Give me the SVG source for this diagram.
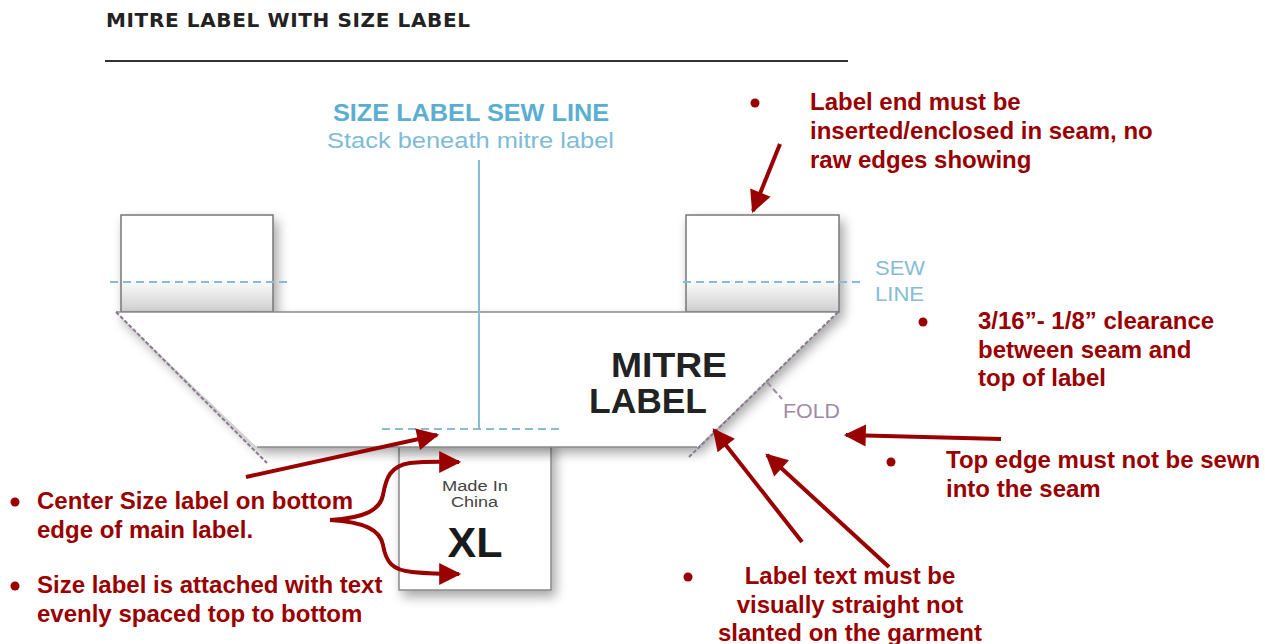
<svg xmlns="http://www.w3.org/2000/svg" width="1265" height="644" viewBox="0 0 1265 644">
<style>
.red{fill:#990000;font-family:"Liberation Sans",Arial,sans-serif;font-weight:bold;font-size:24px}
.dot{fill:#990000}
.arr{stroke:#990000;stroke-width:4;fill:none}
.sew{stroke:#86bcd4;stroke-width:2;stroke-dasharray:8 5;fill:none}
.fold{stroke:#8a7a90;stroke-width:2;stroke-dasharray:4 2;fill:none}
.edge{stroke:#8a8a8a;stroke-width:1.5}
.blue{font-family:"Liberation Sans",Arial,sans-serif}
</style>
<defs>
<marker id="ah" viewBox="0 0 10 10" refX="9" refY="5" markerWidth="6" markerHeight="5.5" markerUnits="strokeWidth" orient="auto">
<path d="M0,0 L10,5 L0,10 z" fill="#990000"/>
</marker>
<linearGradient id="tabg" x1="0" y1="0" x2="0" y2="1">
<stop offset="0" stop-color="#ffffff"/>
<stop offset="0.65" stop-color="#ffffff"/>
<stop offset="1" stop-color="#cfcfcf"/>
</linearGradient>
<linearGradient id="szg" x1="0" y1="0" x2="0" y2="1">
<stop offset="0" stop-color="#d4d4d4"/>
<stop offset="0.15" stop-color="#ffffff"/>
<stop offset="1" stop-color="#ffffff"/>
</linearGradient>
<filter id="sh" x="-10%" y="-10%" width="130%" height="140%">
<feGaussianBlur in="SourceAlpha" stdDeviation="6"/>
<feOffset dx="4" dy="6" result="b"/>
<feComponentTransfer><feFuncA type="linear" slope="0.35"/></feComponentTransfer>
<feMerge><feMergeNode/><feMergeNode in="SourceGraphic"/></feMerge>
</filter>
</defs>
<rect width="1265" height="644" fill="#ffffff"/>

<g id="title">
<text x="106" y="27" font-family="'DejaVu Sans','Liberation Sans',sans-serif" font-weight="bold" font-size="20" textLength="364" lengthAdjust="spacing" fill="#222">MITRE LABEL WITH SIZE LABEL</text>
<line x1="105" y1="61" x2="848" y2="61" stroke="#333" stroke-width="2"/>
</g>

<g id="size-sew-line-label">
<text x="333" y="121" class="blue" font-weight="bold" font-size="23" textLength="276" lengthAdjust="spacingAndGlyphs" fill="#5aaed2">SIZE LABEL SEW LINE</text>
<text x="327" y="148" class="blue" font-size="22.5" textLength="287" lengthAdjust="spacingAndGlyphs" fill="#7dbcd8">Stack beneath mitre label</text>
</g>

<g id="left-tab">
<rect x="121" y="215" width="152" height="97" fill="url(#tabg)" stroke="#777" stroke-width="1.5" filter="url(#sh)"/>
</g>
<g id="right-tab">
<rect x="686" y="215" width="153" height="97" fill="url(#tabg)" stroke="#777" stroke-width="1.5" filter="url(#sh)"/>
</g>

<g id="size-label">
<rect x="399" y="440" width="152" height="150" fill="url(#szg)" stroke="#888" stroke-width="1.5" filter="url(#sh)"/>
<text x="442" y="491" font-family="'Liberation Sans',Arial,sans-serif" font-size="15.5" textLength="66" lengthAdjust="spacingAndGlyphs" fill="#444">Made In</text>
<text x="451" y="507" font-family="'Liberation Sans',Arial,sans-serif" font-size="15.5" textLength="47" lengthAdjust="spacingAndGlyphs" fill="#444">China</text>
<text x="475" y="557" text-anchor="middle" font-family="'Liberation Sans',Arial,sans-serif" font-weight="bold" font-size="43" fill="#1a1a1a">XL</text>
</g>

<g id="mitre-label">
<polygon points="116,312 838,312 697,447 257,447" fill="#ffffff" filter="url(#sh)"/>
<line x1="116" y1="312" x2="838" y2="312" class="edge"/>
<line x1="257" y1="447" x2="697" y2="447" class="edge"/>
<line x1="116" y1="312" x2="267" y2="463" class="fold"/>
<line x1="838" y1="312" x2="688" y2="458" class="fold"/>
<text x="611" y="377" font-family="'Liberation Sans',Arial,sans-serif" font-weight="bold" font-size="35" textLength="116" lengthAdjust="spacingAndGlyphs" fill="#222">MITRE</text>
<text x="589" y="413" font-family="'Liberation Sans',Arial,sans-serif" font-weight="bold" font-size="35" textLength="118" lengthAdjust="spacingAndGlyphs" fill="#222">LABEL</text>
</g>

<g id="sew-lines">
<line x1="110" y1="282" x2="288" y2="282" class="sew"/>
<line x1="683" y1="282" x2="862" y2="282" class="sew"/>
<line x1="382" y1="429" x2="562" y2="429" class="sew"/>
<line x1="479" y1="160" x2="479" y2="429" stroke="#86bcd4" stroke-width="2"/>
<text x="875" y="275" class="blue" font-size="20" textLength="50" lengthAdjust="spacingAndGlyphs" fill="#86bcd4">SEW</text>
<text x="875" y="301" class="blue" font-size="20" textLength="49" lengthAdjust="spacingAndGlyphs" fill="#86bcd4">LINE</text>
</g>

<g id="fold-label">
<line x1="767" y1="382" x2="782" y2="399" stroke="#a08aa8" stroke-width="2" stroke-dasharray="6 3"/>
<text x="783" y="418" class="blue" font-size="20" textLength="57" lengthAdjust="spacingAndGlyphs" fill="#a08aa8">FOLD</text>
</g>

<g id="connectors">
<line x1="780" y1="144" x2="753" y2="211" class="arr" marker-end="url(#ah)"/>
<line x1="1001" y1="439" x2="846" y2="435" class="arr" marker-end="url(#ah)"/>
<line x1="802" y1="542" x2="714" y2="430" class="arr" marker-end="url(#ah)"/>
<line x1="889" y1="567" x2="767" y2="455" class="arr" marker-end="url(#ah)"/>
<line x1="246" y1="477" x2="437" y2="435" class="arr" marker-end="url(#ah)"/>
<path d="M330,520 C365,518 380,510 383,495 C386,478 390,466 410,463 C430,461 445,462 459,462" class="arr" marker-end="url(#ah)"/>
<path d="M330,520 C365,522 380,530 383,545 C386,562 392,570 412,572 C432,574 445,574 459,574" class="arr" marker-end="url(#ah)"/>
</g>

<g id="note-label-end">
<circle cx="755" cy="103" r="4.5" class="dot"/>
<text x="810" y="110" class="red">Label end must be</text>
<text x="810" y="139" class="red">inserted/enclosed in seam, no</text>
<text x="810" y="168" class="red">raw edges showing</text>
</g>

<g id="note-clearance">
<circle cx="923" cy="322" r="4.5" class="dot"/>
<text x="978" y="329" class="red">3/16”- 1/8” clearance</text>
<text x="978" y="358" class="red">between seam and</text>
<text x="978" y="386" class="red">top of label</text>
</g>

<g id="note-top-edge">
<circle cx="891" cy="462" r="4.5" class="dot"/>
<text x="946" y="468" class="red">Top edge must not be sewn</text>
<text x="946" y="497" class="red">into the seam</text>
</g>

<g id="note-straight">
<circle cx="688" cy="577" r="4.5" class="dot"/>
<text x="850" y="584" text-anchor="middle" class="red">Label text must be</text>
<text x="850" y="613" text-anchor="middle" class="red">visually straight not</text>
<text x="850" y="641" text-anchor="middle" class="red">slanted on the garment</text>
</g>

<g id="note-center">
<circle cx="15" cy="502" r="4.5" class="dot"/>
<text x="37" y="509" class="red">Center Size label on bottom</text>
<text x="37" y="538" class="red">edge of main label.</text>
</g>

<g id="note-attached">
<circle cx="15" cy="586" r="4.5" class="dot"/>
<text x="37" y="593" class="red">Size label is attached with text</text>
<text x="37" y="622" class="red">evenly spaced top to bottom</text>
</g>
</svg>
